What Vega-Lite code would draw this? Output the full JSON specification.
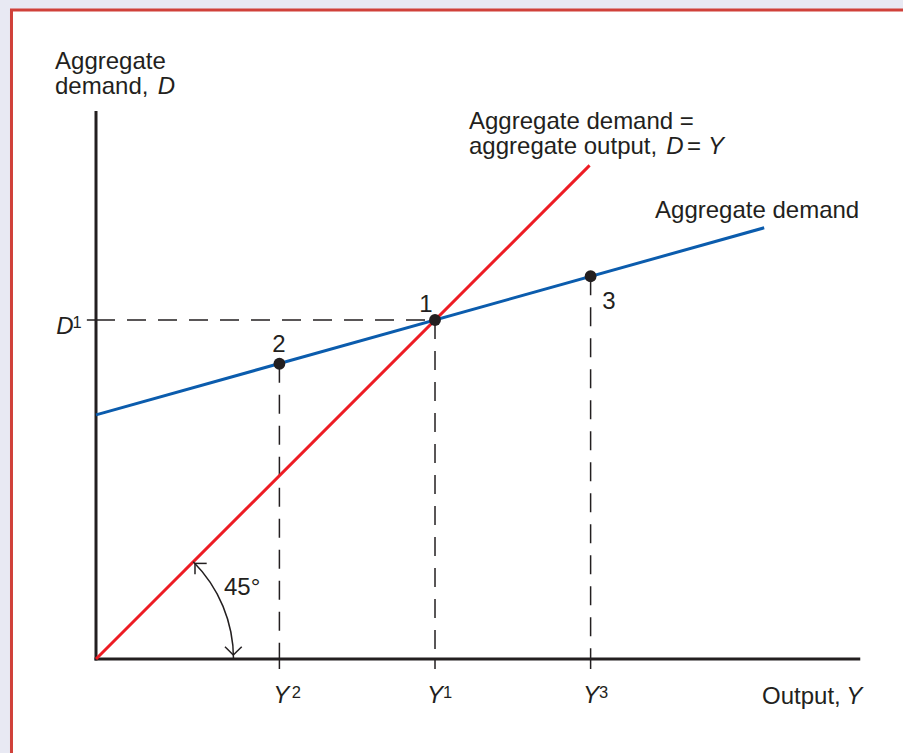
{
  "$schema": "https://vega.github.io/schema/vega-lite/v6.json",
  "width": 903,
  "height": 753,
  "autosize": {"type": "fit", "contains": "padding"},
  "padding": 0,
  "background": "#e8e9f3",
  "config": {"view": {"stroke": null}},
  "datasets": {
    "panel": [{"x": -24.93, "y": 191.45, "x2": 300, "y2": -80}],
    "axes": [
      {"name": "D axis", "x": 0, "y": 0, "x2": 0, "y2": 161.2},
      {"name": "Y axis", "x": 0, "y": 0, "x2": 225.0, "y2": 0}
    ],
    "ticks": [
      {"name": "D1", "x": -2.7, "y": 100, "x2": 0, "y2": 100},
      {"name": "Y2", "x": 54.1, "y": 0, "x2": 54.1, "y2": -2.95},
      {"name": "Y1", "x": 100, "y": 0, "x2": 100, "y2": -2.95},
      {"name": "Y3", "x": 145.9, "y": 0, "x2": 145.9, "y2": -2.95}
    ],
    "guides": [
      {"name": "D1", "x": 0, "y": 100, "x2": 100, "y2": 100},
      {"name": "Y2", "x": 54.1, "y": 87.1, "x2": 54.1, "y2": 0},
      {"name": "Y1", "x": 100, "y": 100, "x2": 100, "y2": 0},
      {"name": "Y3", "x": 145.9, "y": 112.9, "x2": 145.9, "y2": 0}
    ],
    "curves": [
      {"curve": "D = Y", "x": 0, "y": 0},
      {"curve": "D = Y", "x": 145.6, "y": 145.6},
      {"curve": "Aggregate demand", "x": 0, "y": 72.0},
      {"curve": "Aggregate demand", "x": 197.1, "y": 127.2}
    ],
    "angle": [{"x": 0, "y": 0, "t1": 0.7854, "t2": 1.5708}],
    "arrows": [
      {"x": 29.2, "y": 28.2, "x2": 32.65, "y2": 28.2},
      {"x": 29.2, "y": 28.2, "x2": 29.2, "y2": 24.99},
      {"x": 40.5, "y": 1.18, "x2": 38.05, "y2": 3.63},
      {"x": 40.5, "y": 1.18, "x2": 42.98, "y2": 3.63}
    ],
    "points": [
      {"point": "1", "x": 100, "y": 100},
      {"point": "2", "x": 54.1, "y": 87.1},
      {"point": "3", "x": 145.9, "y": 112.9}
    ],
    "labels": [
      {"label": "Aggregate", "x": -12.09, "y": 174.04},
      {"label": "demand,", "x": -12.09, "y": 166.67},
      {"label": "Aggregate demand =", "x": 110.03, "y": 156.25},
      {"label": "aggregate output,", "x": 110.03, "y": 148.88},
      {"label": "=", "x": 174.34, "y": 148.88},
      {"label": "Aggregate demand", "x": 164.9, "y": 130.09},
      {"label": "Output,", "x": 196.46, "y": -13.3},
      {"label": "45°", "x": 37.76, "y": 18.88}
    ],
    "numbers": [
      {"label": "1", "x": 97.35, "y": 102.36},
      {"label": "2", "x": 53.98, "y": 90.56},
      {"label": "3", "x": 151.33, "y": 103.24}
    ],
    "italics": [
      {"label": "D", "x": 20.74, "y": 166.67},
      {"label": "D", "x": 170.8, "y": 148.88},
      {"label": "Y", "x": 182.9, "y": 148.88},
      {"label": "Y", "x": 223.66, "y": -13.3},
      {"label": "D", "x": -9.14, "y": 95.87},
      {"label": "Y", "x": 54.66, "y": -13.0},
      {"label": "Y", "x": 100, "y": -13.0},
      {"label": "Y", "x": 146.0, "y": -13.0}
    ],
    "supers": [
      {"label": "1", "x": -6.93, "y": 97.7},
      {"label": "2", "x": 57.76, "y": -11.45},
      {"label": "1", "x": 102.35, "y": -11.45},
      {"label": "3", "x": 148.35, "y": -11.45}
    ]
  },
  "encoding": {
    "x": {"field": "x", "type": "quantitative", "scale": {"domain": [-28.32, 238.05], "nice": false, "zero": false}, "axis": null},
    "y": {"field": "y", "type": "quantitative", "scale": {"domain": [-27.73, 194.4], "nice": false, "zero": false}, "axis": null}
  },
  "layer": [
    {
      "data": {"name": "panel"},
      "mark": {"type": "rect", "fill": "#ffffff", "stroke": "#d0413a", "strokeWidth": 3, "clip": true},
      "encoding": {"x2": {"field": "x2"}, "y2": {"field": "y2"}}
    },
    {
      "data": {"name": "guides"},
      "mark": {"type": "rule", "color": "#231f20", "strokeWidth": 1.5, "strokeDash": [19, 12]},
      "encoding": {"x2": {"field": "x2"}, "y2": {"field": "y2"}}
    },
    {
      "data": {"name": "ticks"},
      "mark": {"type": "rule", "color": "#231f20", "strokeWidth": 1.5},
      "encoding": {"x2": {"field": "x2"}, "y2": {"field": "y2"}}
    },
    {
      "data": {"name": "axes"},
      "mark": {"type": "rule", "color": "#231f20", "strokeWidth": 3, "strokeCap": "square"},
      "encoding": {"x2": {"field": "x2"}, "y2": {"field": "y2"}}
    },
    {
      "data": {"name": "curves"},
      "mark": {"type": "line", "strokeWidth": 3},
      "encoding": {
        "color": {"field": "curve", "type": "nominal", "scale": {"domain": ["D = Y", "Aggregate demand"], "range": ["#ed1c24", "#0b5cad"]}, "legend": null}
      }
    },
    {
      "data": {"name": "angle"},
      "mark": {"type": "arc", "filled": false, "stroke": "#231f20", "strokeWidth": 1.5, "radius": 137.5, "radius2": 137.5},
      "encoding": {
        "theta": {"field": "t1", "type": "quantitative", "scale": null},
        "theta2": {"field": "t2"}
      }
    },
    {
      "data": {"name": "arrows"},
      "mark": {"type": "rule", "color": "#231f20", "strokeWidth": 1.5},
      "encoding": {"x2": {"field": "x2"}, "y2": {"field": "y2"}}
    },
    {
      "data": {"name": "points"},
      "mark": {"type": "point", "filled": true, "size": 140, "color": "#231f20", "opacity": 1}
    },
    {
      "data": {"name": "labels"},
      "mark": {"type": "text", "align": "left", "baseline": "alphabetic", "font": "Liberation Sans", "fontSize": 24, "color": "#231f20"},
      "encoding": {"text": {"field": "label"}}
    },
    {
      "data": {"name": "numbers"},
      "mark": {"type": "text", "align": "center", "baseline": "alphabetic", "font": "Liberation Sans", "fontSize": 24, "color": "#231f20"},
      "encoding": {"text": {"field": "label"}}
    },
    {
      "data": {"name": "italics"},
      "mark": {"type": "text", "align": "center", "baseline": "alphabetic", "font": "Liberation Sans", "fontStyle": "italic", "fontSize": 24, "color": "#231f20"},
      "encoding": {"text": {"field": "label"}}
    },
    {
      "data": {"name": "supers"},
      "mark": {"type": "text", "align": "left", "baseline": "alphabetic", "font": "Liberation Sans", "fontSize": 16.5, "color": "#231f20"},
      "encoding": {"text": {"field": "label"}}
    }
  ]
}
